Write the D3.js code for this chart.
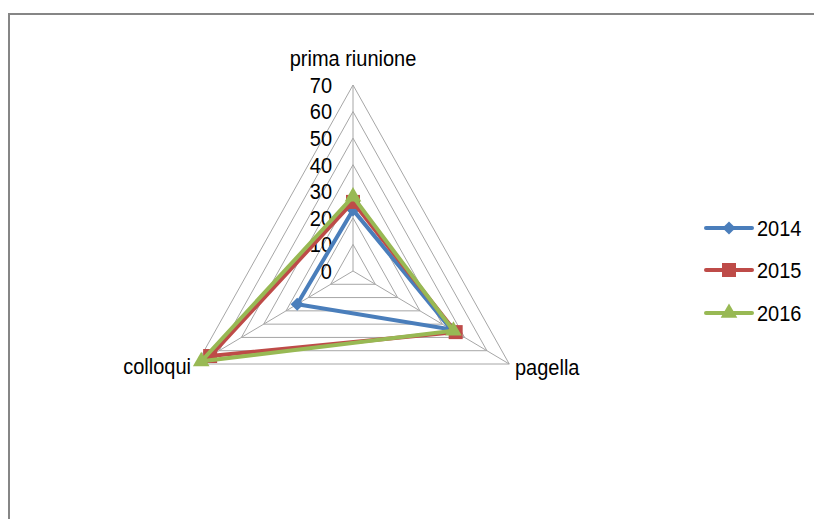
<!DOCTYPE html>
<html><head><meta charset="utf-8">
<script src="https://cdn.jsdelivr.net/npm/d3@7"></script>
<style>body{margin:0;background:#fff}svg{display:block}text{font-family:"Liberation Sans",Arial,sans-serif;fill:#000}</style>
</head><body>
<svg id="c" width="814" height="519"></svg>
<script>
const axes = ["prima riunione", "pagella", "colloqui"];
const seriesNames = ["2014", "2015", "2016"];
const values2014 = [23, 44, 25];
const values2015 = [26, 46, 64];
const values2016 = [28, 45, 68];
const tickValues = [0, 10, 20, 30, 40, 50, 60, 70];
const colors = ["#4a7ebb", "#be4b48", "#98b954"];
const allValues = [values2014, values2015, values2016];

const svg = d3.select("#c");
const cx = 353, cy = 271, R = 186, kx = 0.97;
const r = d3.scaleLinear().domain([0, 70]).range([0, R]);
const ang = d3.scaleLinear().domain([0, axes.length]).range([0, 2 * Math.PI]);
const pt = (i, v) => [cx + r(v) * Math.sin(ang(i)) * kx, cy - r(v) * Math.cos(ang(i))];

// border
svg.append("path").attr("d", "M9,519 V14 H814").attr("fill", "none").attr("stroke", "#868686").attr("stroke-width", 2);

// grid rings
const g = svg.append("g");
tickValues.slice(1).forEach(t => {
  g.append("polygon").attr("points", axes.map((a, i) => pt(i, t).join(",")).join(" "))
    .attr("fill", "none").attr("stroke", "#a6a6a6").attr("stroke-width", 1);
});
axes.forEach((a, i) => {
  const p = pt(i, 70);
  g.append("line").attr("x1", cx).attr("y1", cy).attr("x2", p[0]).attr("y2", p[1])
    .attr("stroke", "#a6a6a6").attr("stroke-width", 1);
});

const fs = 20;
function txt(x, y, s, anchor, dy) {
  const t = svg.append("text").attr("text-anchor", anchor).attr("font-size", fs)
    .attr("transform", `translate(${x},${y}) scale(1,1.12)`).text(s);
  if (dy) t.attr("dy", dy);
  return t;
}

// tick labels
tickValues.forEach(t => txt(332, cy - r(t), t, "end", "0.35em"));

// axis labels
txt(cx, 66, axes[0], "middle");
txt(515, 375, axes[1], "start");
txt(191, 374, axes[2], "end");

// marker drawer
function marker(sel, k, x, y) {
  if (k === 0) {
    sel.append("path").attr("d", d3.symbol(d3.symbolDiamond2, 110)()).attr("transform", `translate(${x},${y})`).attr("fill", colors[0]);
  } else if (k === 1) {
    sel.append("rect").attr("x", x - 7).attr("y", y - 7).attr("width", 14).attr("height", 14).attr("fill", colors[1]);
  } else {
    sel.append("path").attr("d", d3.symbol(d3.symbolTriangle, 120)()).attr("transform", `translate(${x},${y})`).attr("fill", colors[2]);
  }
}

// series
const line = d3.line().curve(d3.curveLinearClosed);
allValues.forEach((vals, k) => {
  const pts = vals.map((v, i) => pt(i, v));
  const sg = svg.append("g");
  sg.append("path").attr("d", line(pts)).attr("fill", "none").attr("stroke", colors[k])
    .attr("stroke-width", 4).attr("stroke-linejoin", "miter");
  pts.forEach(p => marker(sg, k, p[0], p[1]));
});

// legend
const ly = [228, 270, 313];
seriesNames.forEach((n, k) => {
  const lg = svg.append("g");
  lg.append("line").attr("x1", 706).attr("x2", 752).attr("y1", ly[k]).attr("y2", ly[k])
    .attr("stroke", colors[k]).attr("stroke-width", 4).attr("stroke-linecap", "round");
  marker(lg, k, 729, ly[k]);
  txt(757, ly[k], n, "start", "0.35em");
});
</script>
</body></html>
